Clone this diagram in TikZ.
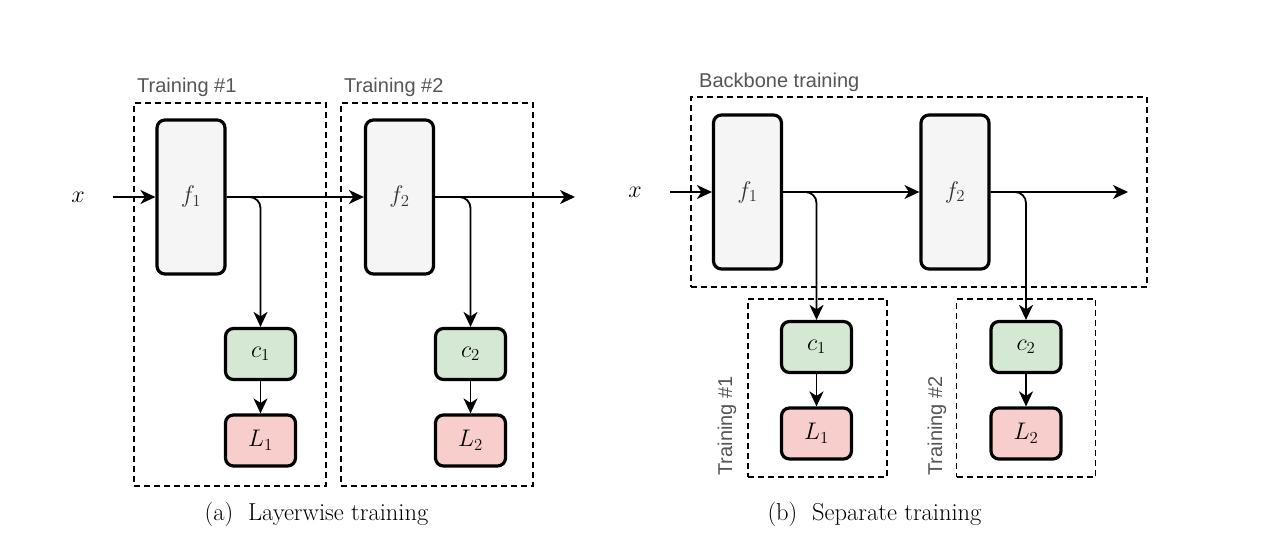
\RequirePackage{fix-cm}
\documentclass[tikz,border=0pt]{standalone}
\usepackage{fontspec}
\setsansfont{Liberation Sans}
\usetikzlibrary{arrows.meta,positioning}
\definecolor{fgray}{HTML}{F5F5F5}
\definecolor{cgreen}{HTML}{D5E8D4}
\definecolor{lred}{HTML}{F8CECC}
\definecolor{lblgray}{HTML}{555555}
\definecolor{ftext}{HTML}{333333}
\tikzset{
  blk/.style={draw=black, line width=3.2pt, rounded corners=8pt, inner sep=0pt},
  fbox/.style={blk, fill=fgray, minimum width=68pt, minimum height=154pt,
    font=\fontsize{24}{28}\selectfont, text=ftext},
  cbox/.style={blk, fill=cgreen, minimum width=70pt, minimum height=51pt,
    font=\fontsize{24}{28}\selectfont},
  lbox/.style={blk, fill=lred, minimum width=70pt, minimum height=51pt,
    font=\fontsize{24}{28}\selectfont},
  region/.style={draw=black, line width=1.6pt, dash pattern=on 6pt off 4pt, inner sep=0pt},
  conn/.style={line width=1.8pt, -{Stealth[length=15pt,width=14pt,inset=4.5pt]}},
  lbl/.style={font=\sffamily\fontsize{20}{24}\selectfont, text=lblgray, inner sep=0pt},
  captxt/.style={font=\fontsize{24.5}{28}\selectfont, inner sep=0pt},
  mlbl/.style={font=\fontsize{24}{28}\selectfont, inner sep=0pt},
}
\begin{document}
\begin{tikzpicture}[x=1pt,y=-1pt]
\useasboundingbox (0,0) rectangle (1284,540);
% ---------- (a) Layerwise training ----------
\node[region, minimum width=192pt, minimum height=383pt] (ra1) at (230,294.5) {};
\node[region, minimum width=192pt, minimum height=383pt] (ra2) at (437,294.5) {};
\node[lbl, anchor=base west] (ta1) at (137,93) {Training \#1};
\node[lbl, anchor=base west] (ta2) at (344,93) {Training \#2};

\node[fbox] (af1) at (191,197) {$f_1$};
\node[fbox] (af2) at (399.5,197) {$f_2$};
\node[cbox] (ac1) at (260.5,354) {$c_1$};
\node[lbox] (aL1) at (260.5,440.5) {$L_1$};
\node[cbox] (ac2) at (470.5,354) {$c_2$};
\node[lbox] (aL2) at (470.5,440.5) {$L_2$};
\node[mlbl] (ax) at (78,197) {$x$};
\coordinate (ain) at (113,197);
\coordinate (aout) at (575,197);

\draw[conn] (ain) -- (af1.west);
\draw[conn] (af1.east) -- (af2.west);
\draw[conn] (af2.east) -- (aout);
\draw[conn, rounded corners=11pt] (af1.east) -| (ac1.north);
\draw[conn, rounded corners=11pt] (af2.east) -| (ac2.north);
\draw[conn] (ac1.south) -- (aL1.north);
\draw[conn] (ac2.south) -- (aL2.north);

\node[captxt, anchor=base] (capa) at (316.5,520) {(a)\ \ Layerwise training};

% ---------- (b) Separate training ----------
\node[region, minimum width=456pt, minimum height=190pt] (rbb) at (919,192) {};
\node[region, minimum width=139pt, minimum height=178pt] (rb1) at (817.5,388) {};
\node[region, minimum width=139pt, minimum height=178pt] (rb2) at (1026,388) {};
\node[lbl, anchor=base west] (tbb) at (699,88) {Backbone training};
\node[lbl, rotate=90] (tb1) at (727,426) {Training \#1};
\node[lbl, rotate=90] (tb2) at (937,426) {Training \#2};

\node[fbox] (bf1) at (747.5,192) {$f_1$};
\node[fbox] (bf2) at (955,192) {$f_2$};
\node[cbox] (bc1) at (816.5,347) {$c_1$};
\node[lbox] (bL1) at (816.5,433.5) {$L_1$};
\node[cbox] (bc2) at (1026,347) {$c_2$};
\node[lbox] (bL2) at (1026,433.5) {$L_2$};
\node[mlbl] (bx) at (635,192) {$x$};
\coordinate (bin) at (670,192);
\coordinate (bout) at (1128,192);

\draw[conn] (bin) -- (bf1.west);
\draw[conn] (bf1.east) -- (bf2.west);
\draw[conn] (bf2.east) -- (bout);
\draw[conn, rounded corners=11pt] (bf1.east) -| (bc1.north);
\draw[conn, rounded corners=11pt] (bf2.east) -| (bc2.north);
\draw[conn] (bc1.south) -- (bL1.north);
\draw[conn] (bc2.south) -- (bL2.north);

\node[captxt, anchor=base] (capb) at (874.5,520) {(b)\ \ Separate training};
\end{tikzpicture}
\end{document}
